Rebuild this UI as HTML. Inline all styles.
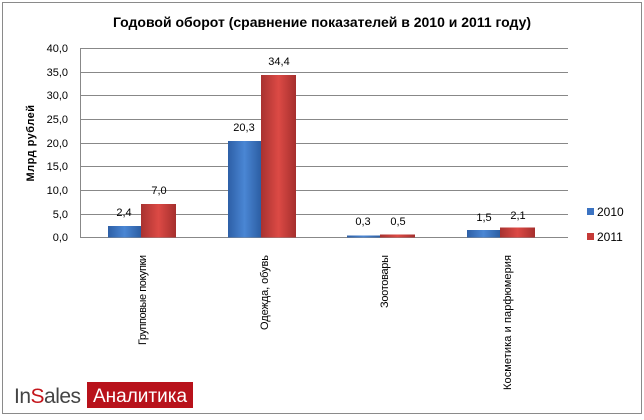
<!DOCTYPE html>
<html><head><meta charset="utf-8"><style>
body{margin:0;background:#fff;}
svg{display:block;font-family:"Liberation Sans","DejaVu Sans",sans-serif;}
</style></head><body>
<svg width="644" height="420" viewBox="0 0 644 420">
<defs>
<linearGradient id="b" x1="0" x2="1"><stop offset="0" stop-color="#2d5fa6"/><stop offset="0.5" stop-color="#4a86d4"/><stop offset="1" stop-color="#2c5ea3"/></linearGradient>
<linearGradient id="r" x1="0" x2="1"><stop offset="0" stop-color="#a83230"/><stop offset="0.5" stop-color="#dc4a45"/><stop offset="1" stop-color="#a52f2d"/></linearGradient>
</defs>
<rect x="2.5" y="2.5" width="639" height="411" fill="#fff" stroke="#8a8a8a"/>
<text x="322" y="27" font-size="14" font-weight="bold" text-anchor="middle" fill="#000">Годовой оборот (сравнение показателей в 2010 и 2011 году)</text>
<g stroke="#888" stroke-width="1">
<line x1="80" y1="48.5" x2="568" y2="48.5"/><line x1="80" y1="72.5" x2="568" y2="72.5"/>
<line x1="80" y1="95.5" x2="568" y2="95.5"/><line x1="80" y1="119.5" x2="568" y2="119.5"/>
<line x1="80" y1="143.5" x2="568" y2="143.5"/><line x1="80" y1="166.5" x2="568" y2="166.5"/>
<line x1="80" y1="190.5" x2="568" y2="190.5"/><line x1="80" y1="214.5" x2="568" y2="214.5"/>
<line x1="80" y1="237.5" x2="568" y2="237.5"/><line x1="80.5" y1="48" x2="80.5" y2="238"/>
</g>
<g font-size="11" text-anchor="end" fill="#000">
<text x="68" y="52">40,0</text><text x="68" y="76">35,0</text><text x="68" y="99">30,0</text>
<text x="68" y="123">25,0</text><text x="68" y="147">20,0</text><text x="68" y="170">15,0</text>
<text x="68" y="194">10,0</text><text x="68" y="218">5,0</text><text x="68" y="241">0,0</text>
</g>
<text transform="translate(34,143) rotate(-90)" font-size="11" font-weight="bold" text-anchor="middle" letter-spacing="0.5">Млрд рублей</text>
<g>
<rect x="108" y="226" width="33" height="11.5" fill="url(#b)"/><rect x="141" y="204" width="35" height="33.5" fill="url(#r)"/>
<rect x="228" y="141" width="33" height="96.5" fill="url(#b)"/><rect x="261" y="75" width="35" height="162.5" fill="url(#r)"/>
<rect x="347" y="235.5" width="33" height="2" fill="url(#b)"/><rect x="380" y="234.5" width="35" height="3" fill="url(#r)"/>
<rect x="467" y="230" width="33" height="7.5" fill="url(#b)"/><rect x="500" y="227.5" width="35" height="10" fill="url(#r)"/>
</g>
<g font-size="11" text-anchor="middle" fill="#000">
<text x="124" y="216">2,4</text><text x="159" y="194">7,0</text>
<text x="244" y="131">20,3</text><text x="279" y="65">34,4</text>
<text x="363" y="225">0,3</text><text x="398" y="225">0,5</text>
<text x="484" y="221">1,5</text><text x="518" y="219">2,1</text>
</g>
<g font-size="11" fill="#000" text-anchor="end">
<text transform="translate(146,255) rotate(-90)" textLength="90" lengthAdjust="spacing">Групповые покупки</text>
<text transform="translate(268,255) rotate(-90)" textLength="75" lengthAdjust="spacing">Одежда, обувь</text>
<text transform="translate(388,255) rotate(-90)" textLength="53" lengthAdjust="spacing">Зоотовары</text>
<text transform="translate(511,255) rotate(-90)" textLength="135" lengthAdjust="spacing">Косметика и парфюмерия</text>
</g>
<rect x="587" y="208" width="7" height="7" fill="#3b73c2"/><text x="597" y="216" font-size="12">2010</text>
<rect x="587" y="233" width="7" height="7" fill="#c53a37"/><text x="597" y="241" font-size="12">2011</text>
<text x="14" y="403" font-size="21" fill="#444" letter-spacing="-0.5">In<tspan fill="#c4161c">S</tspan>ales</text>
<rect x="87" y="382" width="106" height="26" fill="#b8121b"/>
<text x="140" y="402" font-size="19" fill="#fff" text-anchor="middle">Аналитика</text>
</svg>
</body></html>
